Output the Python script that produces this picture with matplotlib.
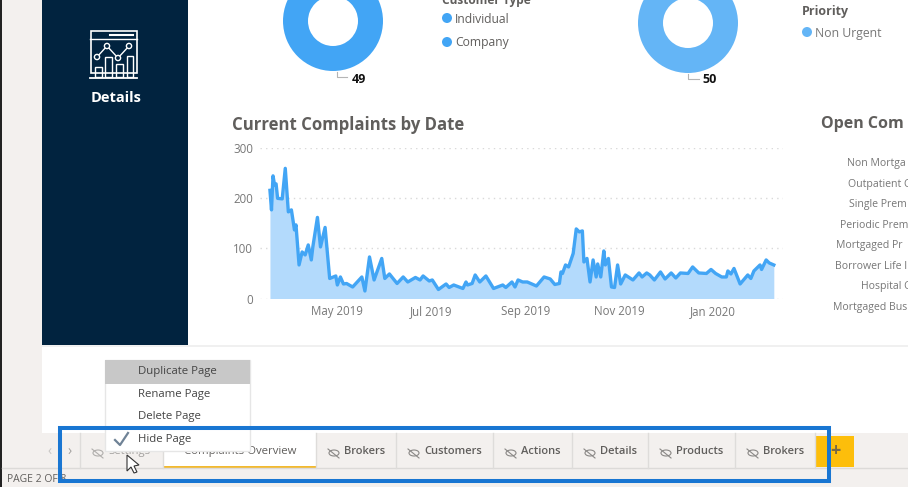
import pandas as pd
import matplotlib
matplotlib.use('Agg')
import matplotlib.pyplot as plt
from matplotlib.patches import Rectangle, Polygon, Ellipse, Circle

plt.rcParams['font.family'] = ['Open Sans', 'DejaVu Sans']

W, H = 908, 487

# complaints over time
start_date = '2019-03-18'
day_offsets = [0, 1, 2, 3, 4, 5, 8, 10, 12, 14, 16, 17, 19, 21, 23, 25, 27, 28, 31, 33, 36, 39, 43, 44, 46, 48, 50, 54,
               60, 62, 65, 68, 73, 75, 78, 83, 87, 90, 95, 98, 100, 104, 106, 110, 115, 117, 120, 126, 128, 129, 132,
               134, 137, 141, 146, 152, 154, 158, 160, 162, 165, 168, 174, 179, 183, 186, 189, 190, 191, 193, 195, 198,
               200, 202, 204, 205, 207, 209, 211, 213, 214, 216, 218, 219, 221, 223, 225, 227, 229, 232, 237, 241, 243,
               246, 248, 251, 255, 258, 262, 265, 268, 273, 276, 280, 285, 288, 291, 295, 298, 299, 301, 303, 307, 312,
               314, 316, 320, 321, 324, 326, 329]
complaints = [216, 177, 245, 227, 229, 200, 199, 260, 173, 177, 137, 147, 67, 93, 87, 107, 77, 103, 162, 103, 142, 40,
              45, 27, 43, 29, 30, 23, 43, 15, 83, 37, 80, 40, 49, 30, 43, 33, 42, 37, 45, 35, 37, 18, 29, 22, 27, 20,
              33, 27, 30, 47, 33, 45, 20, 27, 22, 33, 23, 37, 33, 33, 25, 43, 39, 28, 30, 53, 50, 67, 63, 90, 139, 133,
              135, 73, 80, 33, 77, 43, 69, 43, 95, 67, 80, 23, 22, 67, 29, 47, 37, 51, 43, 51, 47, 37, 53, 39, 51, 41,
              51, 50, 63, 51, 50, 58, 50, 43, 43, 55, 49, 60, 29, 47, 40, 55, 67, 58, 77, 71, 67]

month_ticks = ['2019-05-01', '2019-07-01', '2019-09-01', '2019-11-01', '2020-01-01']
month_labels = ['May 2019', 'Jul 2019', 'Sep 2019', 'Nov 2019', 'Jan 2020']
y_ticks = [0, 100, 200, 300]

donut_left = [49]
donut_right = [50]

right_labels = ['Non Mortga', 'Outpatient C', 'Single Prem', 'Periodic Prem', 'Mortgaged Pr', 'Borrower Life I',
                'Hospital C', 'Mortgaged Bus']
right_label_x = [847, 848, 849, 840, 836, 835, 861, 833]
right_label_y = [163, 184, 204, 225, 245, 266, 286, 307]

tab_names = ['Brokers', 'Customers', 'Actions', 'Details', 'Products', 'Brokers']
tab_text_x = [344, 424, 521, 600, 676, 763]
tab_seps = [80, 163, 316, 396, 493, 572, 648, 735, 815]
menu_items = ['Duplicate Page', 'Rename Page', 'Delete Page', 'Hide Page']
menu_y = [371, 394, 416, 439]

NAVY = '#01233F'
BG = '#F3F0EE'
GREY_TEXT = '#605E5C'


def px_axes(fig, x0, y0, x1, y1, **kw):
    # axes from pixel box, y counted from the top
    return fig.add_axes([x0 / W, 1 - y1 / H, (x1 - x0) / W, (y1 - y0) / H], **kw)


def eye_icon(ax, x, y, color='#8a8886'):
    ax.add_patch(Ellipse((x, y), 10, 6, fill=False, ec=color, lw=0.8))
    ax.plot([x - 6, x + 5], [y - 4, y + 5], color=color, lw=0.8)


fig = plt.figure(figsize=(W / 100, H / 100), dpi=100, facecolor='white')

ui = px_axes(fig, 0, 0, W, H)
ui.set_xlim(0, W)
ui.set_ylim(H, 0)
ui.axis('off')


def label(x, y, s, **kw):
    # Open Sans sits a bit high when centred
    kw.setdefault('va', 'center')
    return ui.text(x, y + 1.5, s, **kw)


# page background
ui.add_patch(Rectangle((0, 0), 2, H, color='#222222', lw=0))
ui.add_patch(Rectangle((2, 0), 40, 433, color=BG, lw=0))
ui.add_patch(Rectangle((42, 0), 146, 345, color=NAVY, lw=0))
ui.add_patch(Rectangle((42, 345), 866, 2, color='#F0F0F0', lw=0))
ui.add_patch(Rectangle((2, 433), 906, 54, color=BG, lw=0))
ui.plot([2, 908], [468, 468], color='#DCDAD8', lw=1)

# details icon
icon_c = 'white'
ui.add_patch(Rectangle((90.5, 31), 46, 42, fill=False, ec=icon_c, lw=1.2))
ui.plot([90, 137], [39, 39], color=icon_c, lw=1)
ui.plot([110, 133], [35, 35], color=icon_c, lw=1.5)
ui.plot([90, 137], [77.5, 77.5], color=icon_c, lw=1.3)
ui.plot([97, 107, 118, 129], [57, 46, 58, 46], color=icon_c, lw=1)
for cx, cy in [(97, 57), (107, 46), (118, 58), (129, 46)]:
    ui.add_patch(Circle((cx, cy), 2.6, fc=NAVY, ec=icon_c, lw=1, zorder=3))
for bx, by, bw in [(95, 67, 7), (105, 57, 7), (116, 64, 7), (127, 56, 6)]:
    ui.add_patch(Rectangle((bx, by), bw, 77 - by, fill=False, ec=icon_c, lw=1))
label(116, 97, 'Details', color='white', fontsize=10.5, fontweight='bold', ha='center')

# donut labels and legends
ui.plot([337, 337, 347], [72, 77, 77], color='#B5B5B5', lw=0.8)
label(359, 78, '49', color='#111111', fontsize=9, fontweight='bold', ha='center')
ui.plot([688, 688, 699], [74, 79, 79], color='#B5B5B5', lw=0.8)
label(710, 78, '50', color='#111111', fontsize=9, fontweight='bold', ha='center')

label(442, -1, 'Customer Type', color=GREY_TEXT, fontsize=8.6, fontweight='bold')
ui.add_patch(Circle((447, 18), 5, color='#42A5F5', lw=0))
label(455, 18, 'Individual', color=GREY_TEXT, fontsize=8.7)
ui.add_patch(Circle((447, 42), 5, color='#42A5F5', lw=0))
label(455, 41, 'Company', color=GREY_TEXT, fontsize=8.7)
label(802, 10, 'Priority', color=GREY_TEXT, fontsize=9, fontweight='bold')
ui.add_patch(Circle((807, 32), 5, color='#64B5F6', lw=0))
label(815, 32, 'Non Urgent', color='#777777', fontsize=8.8)

# titles and the cut off bar chart labels
label(232, 123, 'Current Complaints by Date', color=GREY_TEXT, fontsize=12.1, fontweight='bold')
label(821, 123, 'Open Com', color=GREY_TEXT, fontsize=11.5, fontweight='bold')
for name, lx, ly in zip(right_labels, right_label_x, right_label_y):
    label(lx, ly - 1, name, color='#777777', fontsize=7.6)

# tabs
ui.add_patch(Rectangle((163, 433), 153, 34, color='white', lw=0))
ui.add_patch(Rectangle((163, 466), 153, 2.5, color='#F2B92F', lw=0))
for sx in tab_seps:
    ui.plot([sx, sx], [433, 468], color='#DEDCDA', lw=1)
label(50, 451, '‹', color='#C8C6C4', fontsize=10, ha='center')
label(70, 451, '›', color='#A19F9D', fontsize=10, ha='center')
eye_icon(ui, 98, 453, '#B0AEAC')
label(108, 450, 'Settings', color='#A19F9D', fontsize=8.2)
label(240, 450, 'Complaints Overview', color=GREY_TEXT, fontsize=8.2, ha='center')
for name, tx in zip(tab_names, tab_text_x):
    eye_icon(ui, tx - 10, 453)
    label(tx, 450, name, color=GREY_TEXT, fontsize=8, fontweight='semibold')
ui.add_patch(Rectangle((815, 436), 39, 31, color='#FDBE0B', lw=0))
label(835, 450, '+', color='#7A6A45', fontsize=13, fontweight='bold', ha='center')
label(7, 478, 'PAGE 2 OF 8', color=GREY_TEXT, fontsize=7.5)

# right click menu
ui.add_patch(Rectangle((105, 360), 145, 91, fc='white', ec='#E6E6E6', lw=1, zorder=4))
ui.add_patch(Rectangle((105, 360), 145, 24, color='#C8C8C8', lw=0, zorder=4))
for name, my in zip(menu_items, menu_y):
    label(138, my - 1, name, color='#444444', fontsize=8.2, zorder=5)
ui.plot([115, 120, 128], [440, 445, 433], color='#6F8296', lw=1.6, zorder=5)

# blue highlight box and mouse cursor
ui.add_patch(Rectangle((60, 427.5), 769, 53.5, fill=False, ec='#1976D2', lw=2.9, zorder=6))
cursor = [(127, 455), (127, 471), (131, 467), (134, 473), (137, 472), (134, 466), (139, 465)]
ui.add_patch(Polygon(cursor, closed=True, fc='white', ec='#333333', lw=0.8, zorder=7))

# donuts, the upper parts run off the page
for vals, cx, cy, color in [(donut_left, 333, 21, '#42A5F5'), (donut_right, 688, 23, '#64B5F6')]:
    dax = px_axes(fig, cx - 50, cy - 50, cx + 50, cy + 50)
    dax.pie(vals, colors=[color], radius=1, wedgeprops={'width': 0.5})
    dax.set_xlim(-1, 1)
    dax.set_ylim(-1, 1)

# area chart
dates = pd.Timestamp(start_date) + pd.to_timedelta(day_offsets, unit='D')
ax = px_axes(fig, 260, 148.3, 783, 298.5)
ax.patch.set_alpha(0)
ax.fill_between(dates, complaints, color='#B3DAFC', lw=0)
ax.plot(dates, complaints, color='#42A5F5', lw=2.4, solid_joinstyle='round')
ax.set_xlim(pd.Timestamp(start_date) - pd.Timedelta(days=6.5), pd.Timestamp(start_date) + pd.Timedelta(days=335))
ax.set_ylim(0, 300)
ax.set_yticks(y_ticks)
ax.set_xticks(pd.to_datetime(month_ticks))
ax.set_xticklabels(month_labels)
ax.tick_params(length=0, labelsize=8.3, labelcolor='#777777')
ax.tick_params(axis='x', pad=4.5)
ax.tick_params(axis='y', pad=5)
ax.grid(axis='y', color='#D9D9D9', lw=1, linestyle=(0, (1, 3)))
ax.set_axisbelow(True)
for s in ax.spines.values():
    s.set_visible(False)

fig.savefig('out.png', dpi=100)
